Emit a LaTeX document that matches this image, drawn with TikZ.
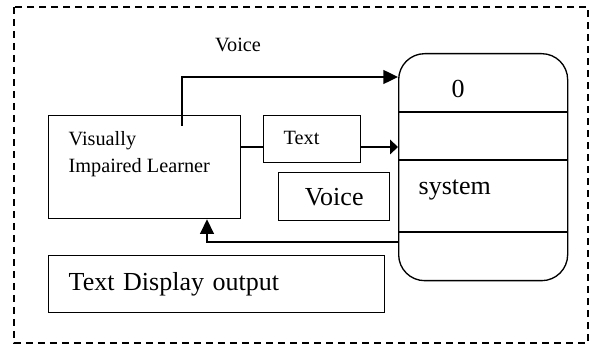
\documentclass[tikz,border=0pt]{standalone}
\usepackage{fontspec}
\setmainfont{Liberation Serif}
\usetikzlibrary{arrows.meta}
\begin{document}
\begin{tikzpicture}[x=0.75pt,y=-0.75pt, line width=1pt,
  box/.style={draw, rectangle, inner sep=0pt, anchor=north west},
  small/.style={font=\fontsize{15.2}{20.25}\selectfont},
  big/.style={font=\fontsize{19.5}{24}\selectfont},
  arr/.style={-{Triangle[length=11pt,width=10.5pt]}},
  arrs/.style={-{Triangle[length=6pt,width=11pt]}}]
\useasboundingbox (0,0) rectangle (590,345);
\draw[dash pattern=on 5.2pt off 3.8pt, line width=1pt] (14,7) rectangle (588,343);
% nodes
\node[box, minimum width=144pt, minimum height=77.25pt] (vil) at (48,115) {};
\node[small, align=left, anchor=north west, inner sep=0pt] (vilt) at (68,131) {Visually\\Impaired Learner};
\node[box, minimum width=72.75pt, minimum height=35.25pt] (txt) at (263,115) {};
\node[small, anchor=base west, inner sep=0pt] (txtl) at (283,145) {Text};
\node[box, big, minimum width=83.25pt, minimum height=36pt] (vbox) at (278,172) {Voice};
\node[box, big, minimum height=42.75pt, text width=222pt, inner xsep=15pt, align=left] (disp) at (48,255) {Text Display output};
\node[draw, rounded corners=19.5pt, minimum width=126.75pt, minimum height=170.25pt, anchor=north west, inner sep=0pt] (sys) at (398,53) {};
\node[small] (vlabel) at (238,45) {Voice};
\node[big] (zero) at (458,89) {0};
\node[big, anchor=base west, inner sep=0pt] (systxt) at (418,195) {system};
% lines inside the system box
\coordinate (l1) at (0,112);
\coordinate (l2) at (0,160);
\coordinate (l3) at (0,232);
\draw (sys.west |- l1) -- (sys.east |- l1);
\draw (sys.west |- l2) -- (sys.east |- l2);
\draw (sys.west |- l3) -- (sys.east |- l3);
% connectors
\coordinate (vstart) at (182,126);
\coordinate (vy) at (0,77);
\draw[arr] (vstart) |- (sys.west |- vy);
\coordinate (ty) at (0,147);
\draw (vil.east |- ty) -- (txt.west |- ty);
\draw[arrs] (txt.east |- ty) -- (sys.west |- ty);
\coordinate (ry) at (0,242);
\coordinate (rx) at (207,0);
\draw[arr] (sys.west |- ry) -| (vil.south -| rx);
\end{tikzpicture}
\end{document}
